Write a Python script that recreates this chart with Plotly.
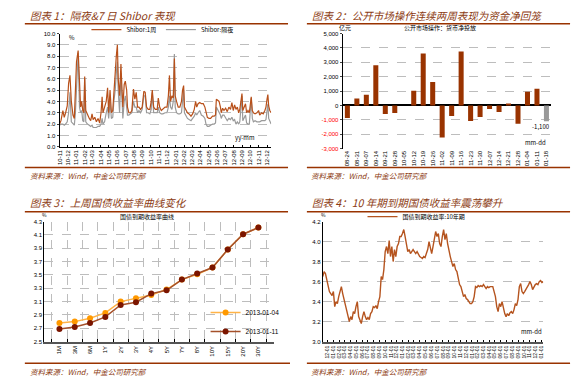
import plotly.graph_objects as go
import pandas as pd

W, H = 579, 384

def px(x):
    return x / W

def py(y):
    return 1 - y / H

# ---------------- Panel 1: Shibor ----------------
shibor_start = "2010-11-01"
shibor_days = [0, 5, 12, 17, 22, 28, 33, 38, 43, 49, 54, 58, 62, 68, 73, 77, 81, 85, 89, 92, 96, 102, 109, 114, 119,
               123, 129, 135, 141, 147, 152, 156, 159, 165, 171, 176, 180, 185, 190, 195, 199, 204, 208, 212, 215,
               220, 225, 229, 232, 237, 241, 246, 249, 254, 260, 265, 271, 276, 281, 286, 291, 297, 303, 309, 314,
               319, 325, 331, 336, 340, 345, 351, 358, 362, 367, 373, 379, 387, 394, 399, 403, 407, 412, 417, 421,
               424, 429, 435, 441, 447, 451, 455, 458, 463, 469, 475, 482, 488, 494, 499, 503, 508, 514, 520, 527,
               533, 537, 542, 548, 554, 561, 567, 572, 575, 580, 585, 590, 593, 598, 603, 609, 615, 621, 627, 632,
               637, 642, 647, 652, 657, 661, 666, 669, 672, 677, 682, 686, 691, 696, 700, 703, 707, 711, 717, 724,
               730, 734, 741, 747, 753, 757, 761, 764, 767, 771, 776]
shibor_1w = [2.0, 2.3, 3.2, 2.6, 3.0, 3.6, 5.6, 6.3, 4.0, 2.8, 2.5, 4.5, 7.5, 8.5, 5.0, 3.5, 4.0, 3.2, 3.0, 6.2, 3.2,
             2.8, 2.5, 2.3, 2.9, 2.4, 2.6, 2.2, 2.5, 2.1, 3.0, 4.4, 3.0, 3.5, 4.0, 5.2, 3.0, 5.0, 3.0, 3.2, 5.0, 6.0,
             8.0, 9.0, 6.0, 4.5, 7.3, 5.0, 3.5, 5.5, 5.8, 5.0, 3.5, 3.0, 3.0, 3.2, 5.1, 4.2, 4.8, 3.5, 3.5, 3.3, 3.5,
             4.9, 4.8, 3.5, 3.3, 3.3, 4.0, 5.0, 3.5, 3.3, 3.3, 4.3, 3.5, 3.2, 3.3, 3.5, 3.5, 4.5, 6.3, 4.0, 4.5, 4.3,
             7.8, 4.5, 4.0, 3.5, 3.5, 4.0, 5.0, 5.4, 3.5, 3.2, 3.0, 2.9, 2.7, 2.9, 3.3, 4.0, 3.5, 3.8, 3.9, 3.8, 3.8,
             3.5, 3.0, 2.6, 2.5, 2.5, 2.7, 2.7, 2.8, 4.2, 4.1, 4.0, 3.5, 3.0, 3.4, 3.2, 3.4, 3.1, 3.5, 3.3, 3.9, 3.2,
             3.7, 3.3, 3.5, 3.0, 3.3, 4.5, 4.7, 3.2, 3.6, 3.8, 3.0, 3.2, 3.0, 4.0, 4.4, 3.2, 3.0, 2.9, 3.0, 3.2, 2.8,
             3.0, 2.9, 3.2, 3.5, 4.2, 4.6, 3.6, 3.2, 3.0]
shibor_on = [1.9, 2.0, 2.0, 1.9, 2.0, 2.2, 3.0, 4.8, 2.2, 2.0, 1.9, 3.0, 5.5, 8.3, 3.5, 3.0, 3.2, 2.3, 2.2, 6.0, 2.2,
             2.0, 1.9, 1.8, 1.9, 1.7, 1.7, 1.7, 1.8, 1.8, 2.0, 2.5, 2.0, 2.2, 3.0, 3.5, 2.5, 4.0, 2.5, 2.6, 4.0, 5.0,
             6.5, 7.5, 5.0, 3.0, 6.5, 3.0, 2.5, 4.0, 4.5, 3.5, 2.8, 2.8, 2.9, 3.0, 4.0, 3.5, 3.5, 3.0, 3.2, 3.0, 3.3,
             4.5, 4.5, 3.0, 3.0, 2.9, 3.3, 4.8, 3.0, 3.0, 3.0, 3.5, 3.0, 2.9, 2.9, 3.0, 3.0, 3.5, 4.5, 3.5, 3.3, 4.0,
             8.2, 3.5, 3.0, 2.9, 2.9, 3.0, 4.0, 5.0, 3.0, 2.8, 2.5, 2.4, 2.3, 2.5, 2.7, 3.0, 2.8, 3.0, 3.2, 2.8, 2.7,
             2.5, 2.0, 1.8, 1.8, 1.9, 2.0, 2.0, 2.1, 3.5, 3.3, 3.0, 2.8, 2.5, 2.8, 2.8, 2.5, 2.3, 2.5, 2.4, 2.6, 2.3,
             2.4, 2.0, 2.2, 2.0, 2.2, 3.5, 4.5, 2.3, 2.5, 2.8, 2.1, 2.0, 2.0, 3.5, 4.3, 2.5, 2.2, 2.3, 2.2, 2.2, 2.2,
             2.3, 2.3, 2.3, 2.4, 3.5, 3.8, 2.5, 2.2, 2.0]
shibor_dates = pd.Timestamp(shibor_start) + pd.to_timedelta(shibor_days, unit="D")

# ---------------- Panel 2: open market operations ----------------
omo_weeks = ["08-24", "08-31", "09-07", "09-14", "09-21", "09-28", "10-05", "10-12", "10-19", "10-26", "11-02",
             "11-09", "11-16", "11-23", "11-30", "12-07", "12-14", "12-21", "12-28", "01-04", "01-11", "01-18"]
omo_net = [-860, 480, 750, 2800, -590, -520, 0, 1020, 3610, 1640, -2230, -730, 3750, -1070, -800, -250, -450, 70,
           -1270, 950, 1160, -1100]
omo_is_forecast = [False] * 21 + [True]
omo_yticks = [5000, 4000, 3000, 2000, 1000, 0, -1000, -2000, -3000]

# ---------------- Panel 3: yield curve ----------------
tenors = ["1M", "3M", "6M", "1Y", "2Y", "3Y", "4Y", "5Y", "7Y", "8Y", "10Y", "15Y", "20Y", "30Y"]
curve_0104 = [2.78, 2.80, 2.85, 2.93, 3.10, 3.15, 3.20, 3.28, 3.43, 3.51, 3.61, 3.88, 4.11, 4.21]
curve_0111 = [2.69, 2.72, 2.78, 2.87, 3.05, 3.09, 3.22, 3.27, 3.43, 3.52, 3.61, 3.88, 4.11, 4.21]

# ---------------- Panel 4: 10Y yield ----------------
y10_end = "2013-01-11"
y10 = [3.65, 3.70, 3.68, 3.62, 3.55, 3.50, 3.48, 3.46, 3.50, 3.35, 3.40, 3.38, 3.45, 3.50, 3.55, 3.48, 3.42, 3.38,
       3.32, 3.25, 3.20, 3.25, 3.22, 3.30, 3.28, 3.35, 3.40, 3.25, 3.22, 3.18, 3.25, 3.30, 3.25, 3.22, 3.24, 3.22,
       3.28, 3.30, 3.35, 3.34, 3.36, 3.33, 3.40, 3.45, 3.65, 3.62, 3.72, 3.90, 3.95, 3.88, 4.01, 3.85, 3.95, 3.80,
       3.92, 3.85, 3.95, 3.98, 4.05, 4.05, 4.08, 4.12, 4.05, 3.95, 3.90, 3.92, 3.88, 3.90, 3.92, 3.90, 3.88, 3.90,
       3.87, 3.85, 3.84, 3.83, 3.85, 3.84, 3.88, 3.92, 4.00, 3.92, 3.88, 3.95, 4.02, 4.10, 4.05, 4.08, 3.98, 3.95,
       4.05, 4.12, 4.02, 4.08, 3.98, 3.90, 3.85, 3.80, 3.75, 3.78, 3.72, 3.70, 3.62, 3.57, 3.55, 3.50, 3.45, 3.47,
       3.43, 3.42, 3.40, 3.38, 3.38, 3.40, 3.45, 3.55, 3.54, 3.56, 3.55, 3.56, 3.55, 3.57, 3.55, 3.53, 3.55, 3.54,
       3.55, 3.55, 3.55, 3.50, 3.45, 3.35, 3.30, 3.38, 3.35, 3.40, 3.33, 3.28, 3.25, 3.28, 3.26, 3.29, 3.30, 3.28,
       3.32, 3.38, 3.36, 3.42, 3.55, 3.58, 3.50, 3.48, 3.50, 3.52, 3.55, 3.57, 3.60, 3.57, 3.52, 3.55, 3.57, 3.58,
       3.57, 3.60, 3.61, 3.59, 3.60]
y10_dates = pd.date_range(end=y10_end, periods=len(y10), freq="W-FRI")

# ---------------- styling ----------------
FONT = "Liberation Sans, Arial, Noto Sans CJK SC"
CJK = "Noto Sans CJK SC, Liberation Sans"
TITLE_C = "#8C3B12"
LINE_C = "#993300"
GRID = dict(showgrid=True, gridcolor="#BDBDBD", griddash="dash", gridwidth=1)
AX = dict(showline=True, linecolor="#000000", linewidth=1, zeroline=False,
          tickfont=dict(size=6, family=FONT, color="#000000"))

fig = go.Figure()

# Panel 1 traces
fig.add_trace(go.Scatter(x=shibor_dates, y=shibor_on, mode="lines", name="Shibor:隔夜",
                         line=dict(color="#9A9A9A", width=1.2), xaxis="x", yaxis="y",
                         legend="legend4"))
fig.add_trace(go.Scatter(x=shibor_dates, y=shibor_1w, mode="lines", name="Shibor:1周",
                         line=dict(color="#B8501A", width=1.2), xaxis="x", yaxis="y",
                         legend="legend"))

# Panel 2 bars
fig.add_trace(go.Bar(x=omo_weeks, y=omo_net, name="公开市场操作：货币净投放",
                     marker=dict(color=["#999999" if f else "#993300" for f in omo_is_forecast], line=dict(width=0)),
                     xaxis="x2", yaxis="y2", showlegend=False))

# Panel 3 lines
fig.add_trace(go.Scatter(x=tenors, y=curve_0104, mode="lines+markers", name="2013-01-04",
                         line=dict(color="#FFB347", width=1.5),
                         marker=dict(color="#FF9900", size=6), xaxis="x3", yaxis="y3", legend="legend2"))
fig.add_trace(go.Scatter(x=tenors, y=curve_0111, mode="lines+markers", name="2013-01-11",
                         line=dict(color="#A5502A", width=1.5),
                         marker=dict(color="#7B1500", size=6), xaxis="x3", yaxis="y3", legend="legend2"))

# Panel 4 line
fig.add_trace(go.Scatter(x=y10_dates, y=y10, mode="lines", name="国债到期收益率:10年期",
                         line=dict(color="#B5541F", width=1.4), xaxis="x4", yaxis="y4", legend="legend3"))

omo_ticktext = []
for v in omo_yticks:
    s = f"{v:,}"
    omo_ticktext.append(f'<span style="color:#FF0000">{s}</span>' if v < 0 else s)

LEG = dict(xanchor="left", yanchor="middle", bgcolor="rgba(0,0,0,0)", itemwidth=30)

layout = dict(
    width=W, height=H,
    margin=dict(l=0, r=0, t=0, b=0),
    paper_bgcolor="#FFFFFF", plot_bgcolor="#FFFFFF",
    font=dict(family=FONT, size=7, color="#000000"),
    bargap=0.47,
    xaxis=dict(domain=[px(57), px(270)], anchor="y", type="date",
               range=[shibor_dates[0], shibor_dates[-1]],
               tick0=shibor_start, dtick="M1", tickformat="%y-%m", tickangle=-90,
               ticks="inside", ticklen=2, tickcolor="#000000", showgrid=False, **AX),
    yaxis=dict(domain=[py(146), py(31)], anchor="x", range=[0, 10], dtick=1, tickformat=".1f",
               ticks="outside", ticklen=2, **GRID, **AX),
    xaxis2=dict(domain=[px(342), px(552)], anchor="y2", type="category", tickangle=-90,
                showline=False, showgrid=False, zeroline=False, ticks="",
                tickfont=dict(size=6, family=FONT, color="#000000")),
    yaxis2=dict(domain=[py(148), py(31)], anchor="x2", range=[-3000, 5000],
                tickvals=omo_yticks, ticktext=omo_ticktext, ticks="outside", ticklen=2,
                showline=True, linecolor="#000000", linewidth=1,
                zeroline=True, zerolinecolor="#000000", zerolinewidth=1.5,
                tickfont=dict(size=6, family=FONT, color="#000000"), **GRID),
    xaxis3=dict(domain=[px(41.5), px(272.5)], anchor="y3", type="category", tickson="boundaries",
                tickangle=-90, ticks="inside", ticklen=3, tickcolor="#000000",
                showline=True, linecolor="#555555", linewidth=2, zeroline=False,
                tickfont=dict(size=6, family=FONT, color="#000000"), **GRID),
    yaxis3=dict(domain=[py(344), py(222)], anchor="x3", range=[2.5, 4.3], tick0=2.5, dtick=0.2,
                tickformat=".1f", ticks="", **GRID, **AX),
    xaxis4=dict(domain=[px(322), px(544)], anchor="y4", type="date",
                range=[y10_dates[0], y10_dates[-1]], dtick="M1", tickformat="%m-%d", tickangle=-90,
                ticks="inside", ticklen=2, tickcolor="#000000", showgrid=False,
                showline=True, linecolor="#555555", linewidth=2, zeroline=False,
                tickfont=dict(size=5, family=FONT, color="#000000")),
    yaxis4=dict(domain=[py(344), py(222)], anchor="x4", range=[3.0, 4.2], dtick=0.2, tickformat=".1f",
                ticks="", **GRID, **AX),
    legend=dict(orientation="h", x=px(84), y=py(27), font=dict(size=6, family=CJK), **LEG),
    legend4=dict(orientation="h", x=px(159), y=py(27), font=dict(size=6, family=CJK), **LEG),
    legend2=dict(orientation="v", x=px(204), y=py(324), font=dict(size=6.5, family=FONT), **LEG),
    legend3=dict(orientation="h", x=px(362), y=py(217), font=dict(size=6, family=CJK), **LEG),
)
fig.update_layout(**layout)

# Titles, sources, separators
titles = [
    (25, 13, "图表 1：隔夜&7 日 Shibor 表现"),
    (309, 13, "图表 2：公开市场操作连续两周表现为资金净回笼"),
    (25, 203, "图表 3：上周国债收益率曲线变化"),
    (309, 203, "图表 4：10 年期到期国债收益率震荡攀升"),
]
for x, y, t in titles:
    fig.add_annotation(x=px(x), y=py(y), xref="paper", yref="paper", text=t, showarrow=False,
                       xanchor="left", yanchor="middle",
                       font=dict(size=10.5, family=CJK, color=TITLE_C, style="italic"))

sources = [(25, 175), (308, 175), (25, 374), (308, 374)]
for x, y in sources:
    fig.add_annotation(x=px(x), y=py(y), xref="paper", yref="paper", text="资料来源：Wind，中金公司研究部",
                       showarrow=False, xanchor="left", yanchor="middle",
                       font=dict(size=7.5, family=CJK, color=TITLE_C, style="italic"))

seps = [(22, 287, 21), (306, 571, 21), (22, 287, 167), (306, 571, 167),
        (22, 287, 212), (306, 571, 212), (22, 289, 366), (306, 571, 366)]
for x0, x1, y in seps:
    fig.add_shape(type="line", xref="paper", yref="paper", x0=px(x0), x1=px(x1), y0=py(y), y1=py(y),
                  line=dict(color=LINE_C, width=1.5))

small = [
    (64, 35, "%", "left", 6),
    (244, 137, "yy-mm", "center", 6),
    (344, 25, "亿元", "center", 6),
    (440, 25, "公开市场操作：货币净投放", "center", 6),
    (542, 125, "-1,100", "center", 6),
    (536, 142, "mm-dd", "center", 6),
    (42, 215, "%", "center", 5),
    (145, 217, "国债到期收益率曲线", "center", 6),
    (323, 215, "%", "center", 5),
    (532, 334, "mm-dd", "center", 6),
]
for x, y, t, anc, sz in small:
    fig.add_annotation(x=px(x), y=py(y), xref="paper", yref="paper", text=t, showarrow=False,
                       xanchor=anc, yanchor="middle", font=dict(size=sz, family=CJK, color="#000000"))

fig.write_html("out.html", post_script="document.body.style.margin='0';",
               config={"displayModeBar": False})
